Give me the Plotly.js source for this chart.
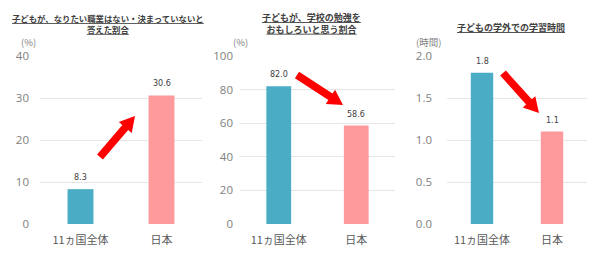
<!DOCTYPE html>
<html>
<head>
<meta charset="utf-8">
<script src="https://cdn.plot.ly/plotly-3.0.1.min.js"></script>
<style>html,body{margin:0;padding:0;background:#fff;}#chart{width:600px;height:259px;}</style>
</head>
<body>
<div id="chart"></div>
<script>
// ---- data ----
const categories = ['11ヵ国全体', '日本'];
const noJobValues = [8.3, 30.6];          // % no desired job / undecided
const enjoyStudyValues = [82.0, 58.6];    // % enjoy school study
const studyHoursValues = [1.8, 1.1];      // hours of study outside school
const panelTitles = [
  '子どもが、なりたい職業はない・決まっていないと<br>答えた割合',
  '子どもが、学校の勉強を<br>おもしろいと思う割合',
  '子どもの学外での学習時間'
];
const unitLabels = ['(%)', '(%)', '(時間)'];

// ---- styles ----
const barColors = ['#4BACC6', '#FF9A9C'];
const W = 600, H = 259;
const JP = '"Noto Sans CJK JP", "Noto Sans", sans-serif';
const series = [noJobValues, enjoyStudyValues, studyHoursValues];
const axisIds = ['', '2', '3'];

const traces = series.map((vals, i) => ({
  type: 'bar',
  x: categories,
  y: vals,
  xaxis: 'x' + axisIds[i],
  yaxis: 'y' + axisIds[i],
  marker: {color: barColors, line: {width: 0}},
  width: 0.32,
  hoverinfo: 'skip',
  showlegend: false
}));

const px = x => x / W;
const py = y => 1 - y / H;

function arrowPath(tx, ty, hx, hy) {
  const w = 3.8, hw = 8.5, hl = 15;
  const dx = hx - tx, dy = hy - ty, L = Math.hypot(dx, dy);
  const ux = dx / L, uy = dy / L, nx = -uy, ny = ux;
  const bx = hx - ux * hl, by = hy - uy * hl;
  const pts = [
    [tx + nx * w, ty + ny * w], [bx + nx * w, by + ny * w], [bx + nx * hw, by + ny * hw],
    [hx, hy], [bx - nx * hw, by - ny * hw], [bx - nx * w, by - ny * w], [tx - nx * w, ty - ny * w]
  ];
  return 'M' + pts.map(p => px(p[0]).toFixed(5) + ',' + py(p[1]).toFixed(5)).join(' L') + ' Z';
}

const arrows = [
  [100, 157, 135, 116],
  [297, 75, 343, 105],
  [503, 73, 539, 113]
];
const shapes = arrows.map(a => ({
  type: 'path', xref: 'paper', yref: 'paper', path: arrowPath(...a),
  fillcolor: '#FF0000', line: {width: 0}, layer: 'above'
}));

const annotations = [];
// value labels
series.forEach((vals, i) => {
  vals.forEach((v, j) => {
    annotations.push({
      x: categories[j], y: v, xref: 'x' + axisIds[i], yref: 'y' + axisIds[i],
      text: v.toFixed(1),
      showarrow: false, yanchor: 'bottom', yshift: 5,
      font: {family: 'DejaVu Sans, sans-serif', size: 8, color: '#404040'}
    });
  });
});
// titles
const titlePos = [[108, 23], [311, 23], [511, 27]];
const titleSizes = [8.4, 9, 9];
panelTitles.forEach((t, i) => {
  annotations.push({
    xref: 'paper', yref: 'paper', x: px(titlePos[i][0]), y: py(titlePos[i][1]),
    xanchor: 'center', yanchor: 'middle', showarrow: false,
    text: '<b><u>' + t.split('<br>').join('</u></b><br><b><u>') + '</u></b>',
    font: {family: JP, size: titleSizes[i], color: '#404040'}, align: 'center'
  });
});
// unit labels
const unitPos = [[28, 42], [240, 42], [428, 42]];
unitLabels.forEach((u, i) => {
  annotations.push({
    xref: 'paper', yref: 'paper', x: px(unitPos[i][0]), y: py(unitPos[i][1]),
    xanchor: 'center', yanchor: 'middle', showarrow: false, text: u,
    font: {family: JP, size: 9.5, color: '#7F7F7F'}
  });
});

const yDom = [1 - 224 / H, 1 - 56 / H];
const xDoms = [[40 / W, 202 / W], [240 / W, 395 / W], [447 / W, 587 / W]];
const yRanges = [[0, 40], [0, 100], [0, 2]];
const yDticks = [10, 20, 0.5];
const yFormats = ['d', 'd', '.1f'];
const standoffs = [10, 6, 14];

const layout = {
  width: W, height: H,
  margin: {l: 0, r: 0, t: 0, b: 0},
  paper_bgcolor: '#FFFFFF', plot_bgcolor: '#FFFFFF',
  shapes: shapes, annotations: annotations
};
for (let i = 0; i < 3; i++) {
  const id = axisIds[i];
  layout['xaxis' + id] = {
    domain: xDoms[i], anchor: 'y' + id, type: 'category', range: [-0.5, 1.5],
    showgrid: false, zeroline: false, showline: false, ticks: '', ticklabelstandoff: 8,
    tickfont: {family: JP, size: 11, color: '#595959'}, fixedrange: true
  };
  layout['yaxis' + id] = {
    domain: yDom, anchor: 'x' + id, range: yRanges[i], dtick: yDticks[i], tick0: 0,
    tickformat: yFormats[i], showgrid: true, gridcolor: '#E6E6E6', gridwidth: 1,
    zeroline: false, showline: false, ticks: '', ticklabelstandoff: standoffs[i],
    tickfont: {family: '"Open Sans", "DejaVu Sans", sans-serif', size: 11.5, color: '#808080'},
    fixedrange: true
  };
}

Plotly.newPlot('chart', traces, layout, {staticPlot: true, displayModeBar: false});
</script>
</body>
</html>
